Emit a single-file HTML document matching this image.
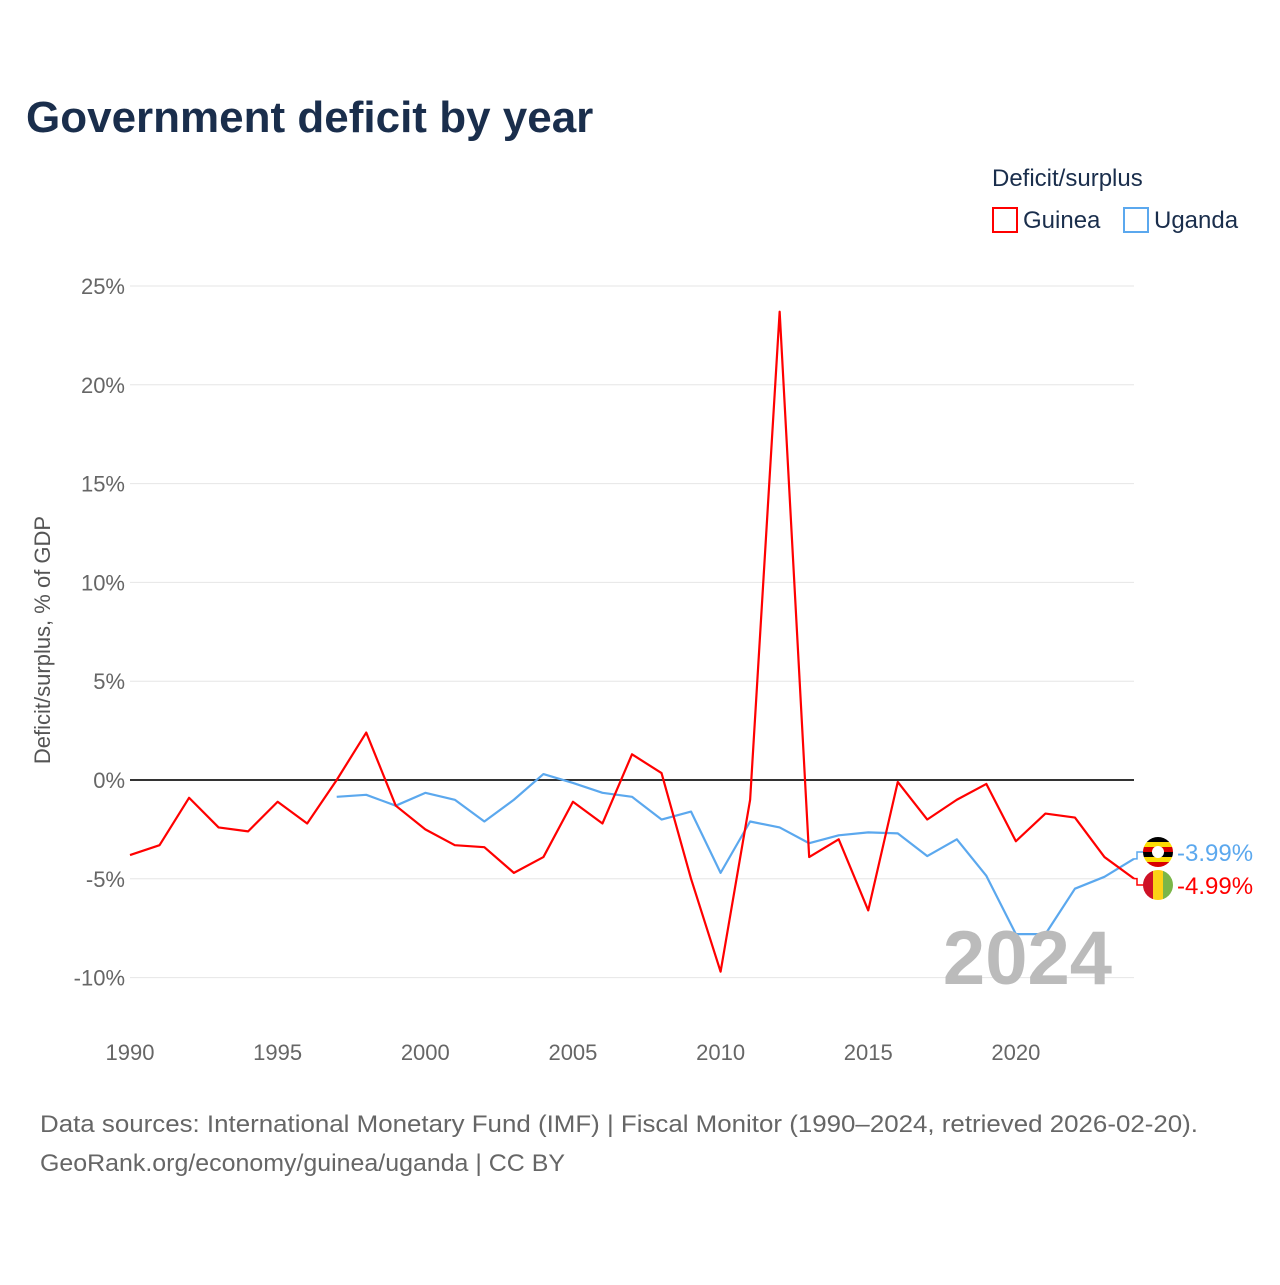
<!DOCTYPE html>
<html><head><meta charset="utf-8">
<style>
body{margin:0;background:#fff;font-family:"Liberation Sans",sans-serif;}
svg text{font-family:"Liberation Sans",sans-serif;}
</style></head>
<body>
<svg width="1280" height="1280" xmlns="http://www.w3.org/2000/svg" id="chart">
<text x="26" y="132" font-size="44" font-weight="bold" fill="#1a2e4c">Government deficit by year</text>
<text x="992" y="186" font-size="24" fill="#1a2e4c">Deficit/surplus</text>
<g><rect x="993" y="208" width="24" height="24" fill="none" stroke="#ff0000" stroke-width="2"/><text x="1023" y="228" font-size="24" fill="#1a2e4c">Guinea</text></g>
<g><rect x="1124" y="208" width="24" height="24" fill="none" stroke="#5ba8ee" stroke-width="2"/><text x="1154" y="228" font-size="24" fill="#1a2e4c">Uganda</text></g>
<text transform="translate(50,640) rotate(-90)" text-anchor="middle" font-size="22" fill="#555">Deficit/surplus, % of GDP</text>
<g id="grid"></g><g id="series"></g>
<text x="1112" y="984" text-anchor="end" font-size="76" font-weight="bold" fill="#bbb">2024</text>
<text x="40" y="1132" font-size="24" fill="#666" textLength="1158" lengthAdjust="spacingAndGlyphs">Data sources: International Monetary Fund (IMF) | Fiscal Monitor (1990–2024, retrieved 2026-02-20).</text>
<text x="40" y="1171" font-size="24" fill="#666" textLength="525" lengthAdjust="spacingAndGlyphs">GeoRank.org/economy/guinea/uganda | CC BY</text>
</svg>
<script>
const years=[1990,1991,1992,1993,1994,1995,1996,1997,1998,1999,2000,2001,2002,2003,2004,2005,2006,2007,2008,2009,2010,2011,2012,2013,2014,2015,2016,2017,2018,2019,2020,2021,2022,2023,2024];
const guinea=[-3.8,-3.3,-0.9,-2.4,-2.6,-1.1,-2.2,0,2.4,-1.3,-2.5,-3.3,-3.4,-4.7,-3.9,-1.1,-2.2,1.3,0.35,-5.0,-9.7,-1.0,23.7,-3.9,-3.0,-6.6,-0.1,-2.0,-1.0,-0.2,-3.1,-1.7,-1.9,-3.9,-4.99];
const ugandaYears=[1997,1998,1999,2000,2001,2002,2003,2004,2005,2006,2007,2008,2009,2010,2011,2012,2013,2014,2015,2016,2017,2018,2019,2020,2021,2022,2023,2024];
const uganda=[-0.85,-0.75,-1.3,-0.65,-1.0,-2.1,-1.0,0.3,-0.15,-0.65,-0.85,-2.0,-1.6,-4.7,-2.1,-2.4,-3.2,-2.8,-2.65,-2.7,-3.85,-3.0,-4.85,-7.8,-7.8,-5.5,-4.9,-3.99];
const yTicks=[25,20,15,10,5,0,-5,-10];
const xTicks=[1990,1995,2000,2005,2010,2015,2020];
const NS="http://www.w3.org/2000/svg";
const X=y=>130+(y-1990)*(1134-130)/34;
const Y=v=>780-v*19.76;
function mk(t,a,p){const e=document.createElementNS(NS,t);for(const k in a)e.setAttribute(k,a[k]);p.appendChild(e);return e;}
const g=document.getElementById('grid'),s=document.getElementById('series');
yTicks.forEach(v=>{
 const l=mk('line',{x1:130,x2:1134,y1:Y(v),y2:Y(v),stroke:v===0?'#333':'#e6e6e6','stroke-width':v===0?2:1},g);
 
 
 const t=mk('text',{x:125,y:Y(v)+8,'text-anchor':'end','font-size':22,fill:'#666'},g);
 t.textContent=v+'%';
 
 
});
xTicks.forEach(y=>{
 const t=mk('text',{x:X(y),y:1060,'text-anchor':'middle','font-size':22,fill:'#666'},g);
 t.textContent=y;
 
 
});
function line(xs,vs,c,name){
 const p=mk('polyline',{points:xs.map((y,i)=>X(y)+','+Y(vs[i])).join(' '),fill:'none',stroke:c,'stroke-width':2.2,'stroke-linejoin':'round'},s);
 
 
}
line(ugandaYears,uganda,'#5ba8ee','uganda-line');
line(years,guinea,'#ff0000','guinea-line');
function end(v,ly,c,name,flag,disc){
 const x=X(2024);
 const p=mk('polyline',{points:`${x},${Y(v)} ${x+3},${Y(v)} ${x+3},${ly} ${x+10},${ly}`,fill:'none',stroke:c,'stroke-width':1.5},s);
 
 
 const fg=mk('g',{},s);
 
 
 const cx=1158;
 const cp=mk('clipPath',{id:'cp'+name},fg);mk('circle',{cx:cx,cy:ly,r:15},cp);
 const fgg=mk('g',{'clip-path':`url(#cp${name})`},fg);
 flag.forEach(f=>mk('rect',{x:cx-15+f[0],y:ly-15+f[1],width:f[2],height:f[3],fill:f[4]},fgg));
 if(disc) mk('circle',{cx:cx,cy:ly,r:6,fill:'#fff'},fgg);
 const t=mk('text',{x:1177,y:ly+9,'font-size':24,fill:c},s);
 t.textContent=v.toFixed(2)+'%';
 
 
}
end(uganda[uganda.length-1],852,'#5ba8ee','uganda',[[0,0,30,5,'#000'],[0,5,30,5,'#fcdc04'],[0,10,30,5,'#d90000'],[0,15,30,5,'#000'],[0,20,30,5,'#fcdc04'],[0,25,30,5,'#d90000']],true);
end(guinea[guinea.length-1],885,'#ff0000','guinea',[[0,0,10,30,'#ce1126'],[10,0,10,30,'#fcd116'],[20,0,10,30,'#7ab648']],false);
</script>
</body></html>
